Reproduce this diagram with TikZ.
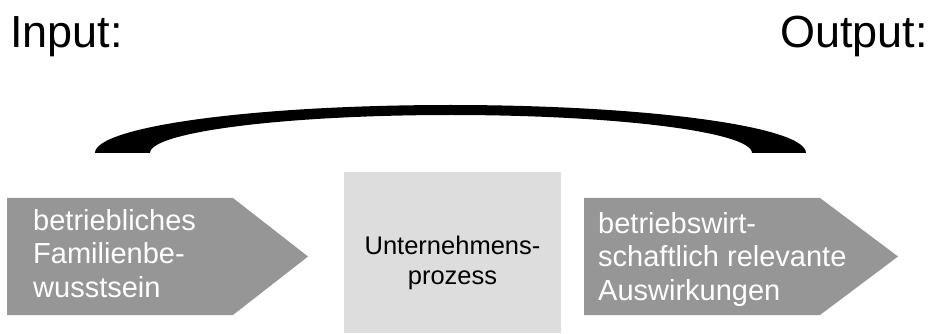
\documentclass[tikz,border=0pt]{standalone}
\usepackage{fontspec}
\setmainfont{Liberation Sans}
\definecolor{arrowgray}{RGB}{150,150,150}
\definecolor{boxgray}{RGB}{221,221,221}
\tikzset{
  arrowshape/.style={fill=arrowgray, draw=none},
  boxshape/.style={fill=boxgray, draw=none},
  arrowtext/.style={text=white, inner sep=0pt, align=left, anchor=north west,
    font=\fontsize{29}{33.5}\selectfont},
  boxtext/.style={text=black, inner sep=0pt, align=center,
    font=\fontsize{25.5}{30}\selectfont},
  headtext/.style={text=black, inner sep=0pt, font=\fontsize{45}{50}\selectfont},
  bridge/.style={fill=black, draw=none}
}
\begin{document}
\begin{tikzpicture}[x=1pt,y=-1pt]
\useasboundingbox (0,0) rectangle (930,334);
% headings
\node[headtext, anchor=base west] (input) at (10,48) {Input:};
\node[headtext, anchor=base east] (output) at (928,48) {Output:};
% bridge arc
\fill[bridge] (95,153) arc[start angle=180, end angle=360, x radius=355.5, y radius=48]
  -- (752,153) arc[start angle=360, end angle=180, x radius=301, y radius=38] -- cycle;
% left arrow
\fill[arrowshape] (7,198) -- (233,198) -- (308,256.5) -- (233,315) -- (7,315) -- cycle;
\node[arrowtext] (left) at (33,209) {betriebliches\\Familienbe-\\wusstsein};
% center box
\fill[boxshape] (344,172) rectangle (561,333);
\node[boxtext] (center) at (452.5,263) {Unternehmens-\\prozess};
% right arrow
\fill[arrowshape] (584,198) -- (820,198) -- (898,256.5) -- (820,315) -- (584,315) -- cycle;
\node[arrowtext] (right) at (598,212) {betriebswirt-\\schaftlich relevante\\Auswirkungen};
\end{tikzpicture}
\end{document}
